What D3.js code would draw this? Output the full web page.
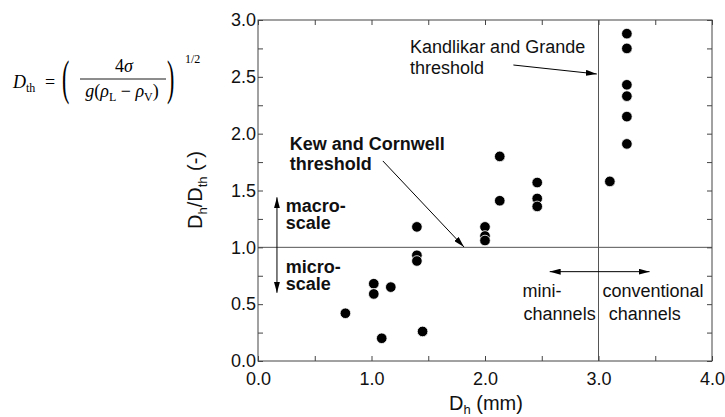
<!DOCTYPE html>
<html>
<head>
<meta charset="utf-8">
<script src="https://cdn.jsdelivr.net/npm/d3@7"></script>
<style>
body { margin: 0; background: #fff; }
</style>
</head>
<body>
<script>
// values
var dhValues    = [0.77, 1.02, 1.02, 1.17, 1.09, 1.45, 1.40, 1.40, 1.40, 2.00, 2.00, 2.00, 2.13, 2.13, 2.46, 2.46, 2.46, 3.10, 3.25, 3.25, 3.25, 3.25, 3.25, 3.25];
var ratioValues = [0.42, 0.68, 0.59, 0.65, 0.20, 0.26, 1.18, 0.93, 0.88, 1.18, 1.10, 1.06, 1.80, 1.41, 1.57, 1.43, 1.36, 1.58, 2.88, 2.75, 2.43, 2.33, 2.15, 1.91];

var xTicks = [0, 0.5, 1, 1.5, 2, 2.5, 3, 3.5, 4];
var xLabels = [0, 1, 2, 3, 4];
var yTicks = [0, 0.25, 0.5, 0.75, 1, 1.25, 1.5, 1.75, 2, 2.25, 2.5, 2.75, 3];
var yLabels = [0, 0.5, 1, 1.5, 2, 2.5, 3];

// thresholds
var microMacroLimit = 1.0;
var miniConventionalLimit = 3.0;

// annotations: [text, dh, ratio, bold]
var notes = [
    ["Kandlikar and Grande", 1.34, 2.71, false],
    ["threshold", 1.34, 2.525, false],
    ["Kew and Cornwell", 0.28, 1.856, true],
    ["threshold", 0.28, 1.68, true],
    ["macro-", 0.245, 1.311, true],
    ["scale", 0.245, 1.161, true],
    ["micro-", 0.245, 0.777, true],
    ["scale", 0.245, 0.625, true],
    ["mini-", 2.33, 0.563, false],
    ["channels", 2.34, 0.361, false],
    ["conventional", 3.035, 0.563, false],
    ["channels", 3.09, 0.361, false]
];

// arrows: [dh1, r1, dh2, r2, double]
var arrows = [
    [2.25, 2.604, 2.985, 2.525, false],
    [1.10, 1.76, 1.815, 1.003, false],
    [0.167, 1.44, 0.167, 0.60, true],
    [2.57, 0.786, 3.45, 0.786, true]
];

var sansFont = "'Liberation Sans', Arial, Helvetica, sans-serif";
var serifFont = "'Liberation Serif', 'Times New Roman', serif";

var svg = d3.select("body").append("svg").attr("width", 725).attr("height", 417);

var x = d3.scaleLinear().domain([0, 4]).range([258, 712]);
var y = d3.scaleLinear().domain([0, 3]).range([361, 20]);

var defs = svg.append("defs");
defs.append("marker").attr("id", "head")
    .attr("viewBox", "0 0 11 6").attr("refX", 11).attr("refY", 3)
    .attr("markerWidth", 11).attr("markerHeight", 6)
    .attr("markerUnits", "userSpaceOnUse")
    .attr("orient", "auto-start-reverse")
    .append("path").attr("d", "M0,0 L11,3 L0,6 Z").attr("fill", "#000");

// formula for D_th
function drawFormula()
{
    let f = svg.append("g").attr("font-family", serifFont).attr("fill", "#000");

    let d = f.append("text").attr("x", 13).attr("y", 88).attr("font-size", 18);
    d.append("tspan").attr("font-style", "italic").text("D");
    d.append("tspan").attr("font-size", 12).attr("dy", 4).text("th");

    f.append("text").attr("x", 45).attr("y", 88).attr("font-size", 18).text("=");

    f.append("text").attr("transform", "translate(62,94) scale(1,2.2)").attr("font-size", 22).text("(");
    f.append("text").attr("transform", "translate(167,94) scale(1,2.2)").attr("font-size", 22).text(")");

    let num = f.append("text").attr("x", 124).attr("y", 72).attr("font-size", 18).attr("text-anchor", "middle");
    num.append("tspan").text("4");
    num.append("tspan").attr("font-style", "italic").text("σ");

    f.append("line").attr("x1", 80).attr("x2", 166).attr("y1", 79).attr("y2", 79)
        .attr("stroke", "#000").attr("stroke-width", 0.9);

    let den = f.append("text").attr("x", 122).attr("y", 97).attr("font-size", 18).attr("text-anchor", "middle");
    den.append("tspan").attr("font-style", "italic").text("g");
    den.append("tspan").text("(");
    den.append("tspan").attr("font-style", "italic").text("ρ");
    den.append("tspan").attr("font-size", 12).attr("dy", 4).text("L");
    den.append("tspan").attr("dy", -4).text(" − ");
    den.append("tspan").attr("font-style", "italic").text("ρ");
    den.append("tspan").attr("font-size", 12).attr("dy", 4).text("V");
    den.append("tspan").attr("dy", -4).text(")");

    f.append("text").attr("x", 185).attr("y", 63).attr("font-size", 12).text("1/2");
}

function drawAxes()
{
    let fmt = d3.format(".1f");

    let styleAxis = function(g)
    {
        g.select(".domain").remove();
        g.selectAll(".tick line").attr("stroke", "#444");
        g.selectAll("text").attr("fill", "#111");
        g.attr("font-size", 18).attr("font-family", sansFont);
    };

    svg.append("g").attr("transform", "translate(0,361)")
        .call(d3.axisBottom(x).tickValues(xTicks).tickSize(-5).tickPadding(11)
            .tickFormat(d => xLabels.includes(d) ? fmt(d) : ""))
        .call(styleAxis);

    svg.append("g").attr("transform", "translate(0,20)")
        .call(d3.axisTop(x).tickValues(xTicks).tickSize(-5).tickFormat(""))
        .call(styleAxis);

    svg.append("g").attr("transform", "translate(258,0)")
        .call(d3.axisLeft(y).tickValues(yTicks).tickSize(-5).tickPadding(2)
            .tickFormat(d => yLabels.includes(d) ? fmt(d) : ""))
        .call(styleAxis);

    svg.append("g").attr("transform", "translate(712,0)")
        .call(d3.axisRight(y).tickValues(yTicks).tickSize(-5).tickFormat(""))
        .call(styleAxis);

    // frame
    svg.append("rect").attr("x", x(0)).attr("y", y(3))
        .attr("width", x(4) - x(0)).attr("height", y(0) - y(3))
        .attr("fill", "none").attr("stroke", "#444").attr("stroke-width", 1);

    // axis titles
    let xt = svg.append("text").attr("x", 486).attr("y", 410).attr("text-anchor", "middle")
        .attr("font-family", sansFont).attr("font-size", 20).attr("fill", "#111");
    xt.append("tspan").text("D");
    xt.append("tspan").attr("font-size", 13).attr("dy", 4).text("h");
    xt.append("tspan").attr("dy", -4).text(" (mm)");

    let yt = svg.append("text").attr("transform", "translate(202,190) rotate(-90)").attr("text-anchor", "middle")
        .attr("font-family", sansFont).attr("font-size", 20).attr("fill", "#111");
    yt.append("tspan").text("D");
    yt.append("tspan").attr("font-size", 13).attr("dy", 5).text("h");
    yt.append("tspan").attr("dy", -5).text("/D");
    yt.append("tspan").attr("font-size", 13).attr("dy", 5).text("th");
    yt.append("tspan").attr("dy", -5).text(" (-)");
}

function drawThresholds()
{
    svg.append("line").attr("x1", x(0)).attr("x2", x(4))
        .attr("y1", y(microMacroLimit)).attr("y2", y(microMacroLimit))
        .attr("stroke", "#555").attr("stroke-width", 1);
    svg.append("line").attr("x1", x(miniConventionalLimit)).attr("x2", x(miniConventionalLimit))
        .attr("y1", y(0)).attr("y2", y(3))
        .attr("stroke", "#555").attr("stroke-width", 1);
}

function drawNotes()
{
    svg.selectAll("text.note").data(notes).enter().append("text")
        .attr("class", "note")
        .attr("x", d => x(d[1])).attr("y", d => y(d[2]))
        .attr("font-family", sansFont).attr("font-size", 18)
        .attr("font-weight", d => d[3] ? "bold" : "normal")
        .attr("fill", "#111")
        .text(d => d[0]);

    svg.selectAll("line.arrow").data(arrows).enter().append("line")
        .attr("class", "arrow")
        .attr("x1", d => x(d[0])).attr("y1", d => y(d[1]))
        .attr("x2", d => x(d[2])).attr("y2", d => y(d[3]))
        .attr("stroke", "#000").attr("stroke-width", 1)
        .attr("marker-end", "url(#head)")
        .attr("marker-start", d => d[4] ? "url(#head)" : null);
}

function drawPoints()
{
    svg.selectAll("circle.pt").data(dhValues).enter().append("circle")
        .attr("class", "pt")
        .attr("cx", d => x(d))
        .attr("cy", (d, i) => y(ratioValues[i]))
        .attr("r", 5.3)
        .attr("fill", "#000")
        .attr("stroke", "#fff").attr("stroke-width", 0.8);
}

drawFormula()
drawThresholds()
drawAxes()
drawNotes()
drawPoints()
</script>
</body>
</html>
